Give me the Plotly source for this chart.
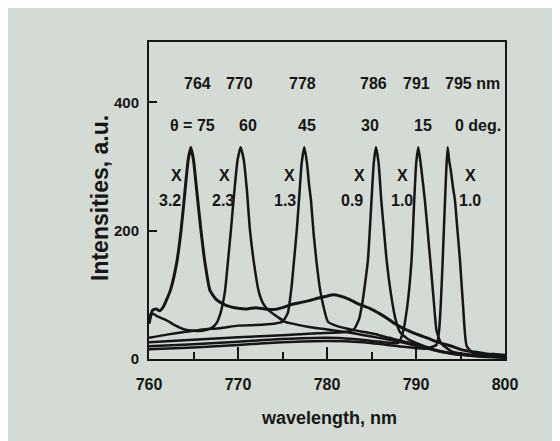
import plotly.graph_objects as go

# ---------------- data ----------------
# theta = 75 deg, peak 764 nm, scaled x3.2
wl_75 = [760.0, 760.4, 760.8, 761.2, 761.6, 762.4, 763.1, 763.6, 764.05, 764.4, 764.7,
         765.0, 765.36, 765.84, 766.3, 766.85, 767.6, 768.3, 769.0, 770.0, 771.0, 772.0,
         773.0, 774.0, 775.0, 776.0, 777.0, 778.0, 779.0, 780.0, 780.7, 781.5, 782.5, 783.5, 784.8,
         786.0, 786.7, 787.5, 788.5, 789.5, 790.4, 791.4, 792.3, 793.2, 794.2, 795.0, 796.0, 797.0,
         798.0, 799.0, 800.0]
int_75 = [55, 76, 78, 75, 81, 107, 149, 200, 263, 310, 330,
          310, 263, 200, 149, 107, 92, 86, 82, 79, 78, 80,
          78, 77, 80, 85, 88, 91, 95, 98, 100, 98, 93, 86, 79,
          70, 64, 56, 48, 42, 37, 32, 27, 23, 19, 15, 12, 10,
          8, 7, 6]

# theta = 60 deg, peak 770 nm, scaled x2.3
wl_60 = [760.0, 760.5, 761.0, 762.0, 763.0, 764.0, 765.0, 766.0, 767.0, 767.6, 768.0, 768.3,
         768.55, 768.85, 769.2, 769.6, 769.95, 770.3, 770.65, 771.0, 771.35, 771.8, 772.3, 772.8,
         773.4, 774.5, 775.3, 776.5, 778.0, 779.5, 781.0, 783.0, 785.0, 787.0, 789.0, 791.0,
         793.0, 795.0, 797.0, 800.0]
int_60 = [68, 70, 66, 60, 52, 46, 44, 44, 48, 56, 70, 87,
          107, 149, 200, 263, 310, 330, 310, 263, 200, 149, 107, 87,
          76, 65, 58, 54, 50, 47, 44, 40, 35, 30, 24, 17,
          11, 7, 5, 3]

# theta = 45 deg, peak 778 nm, scaled x1.3
wl_45 = [760.0, 762.0, 764.0, 766.0, 768.0, 770.0, 772.0, 774.0, 775.0, 775.6, 776.0, 776.3, 776.6,
         776.85, 777.15, 777.45, 777.75, 778.0, 778.2, 778.5, 778.8, 779.2, 779.6, 780.1, 781.0, 783.0,
         785.0, 787.0, 789.0, 790.4, 792.0, 794.0, 796.0, 798.0, 800.0]
int_45 = [33, 38, 42, 46, 48, 52, 53, 55, 58, 72, 110, 154, 200,
          247, 305, 330, 305, 270, 247, 195, 154, 110, 82, 58, 52, 45,
          40, 33, 26, 22, 14, 8, 5, 3, 2]

# theta = 30 deg, peak 786 nm, scaled x0.9
wl_30 = [760.0, 765.0, 770.0, 775.0, 779.0, 782.0, 783.0, 783.6, 784.0, 784.3, 784.6, 785.0, 785.25,
         785.5, 785.8, 786.1, 786.4, 786.7, 787.2, 787.7, 788.2, 789.0, 790.0, 792.0, 794.0, 796.0,
         800.0]
int_30 = [26, 30, 34, 37, 40, 42, 46, 62, 90, 120, 154, 247, 305,
          330, 305, 247, 200, 154, 100, 62, 42, 32, 25, 15, 9, 6,
          3]

# theta = 15 deg, peak 791 nm, scaled x1.0
wl_15 = [760.0, 765.0, 770.0, 775.0, 780.0, 783.0, 786.0, 788.0, 788.5, 789.0, 789.5, 789.8, 790.02,
         790.26, 790.52, 791.0, 791.6, 792.0, 792.3, 792.8, 794.0, 796.0, 800.0]
int_15 = [20, 23, 27, 31, 33, 31, 27, 25, 40, 80, 154, 247, 305,
          330, 305, 247, 154, 90, 45, 25, 12, 7, 4]

# theta = 0 deg, peak 795 nm, scaled x1.0
wl_0 = [760.0, 765.0, 770.0, 775.0, 780.0, 784.0, 788.0, 791.0, 792.3, 792.6, 792.8, 793.0, 793.26,
        793.42, 793.56, 793.72, 793.9, 794.15, 794.38, 794.6, 794.94, 795.3, 795.7, 796.5, 798.0,
        800.0]
int_0 = [15, 18, 22, 26, 28, 26, 20, 16, 22, 45, 90, 154, 247,
         300, 330, 310, 295, 268, 247, 210, 154, 80, 20, 8, 5,
         3]

curves = [(wl_75, int_75, 3.0), (wl_60, int_60, 2.5), (wl_45, int_45, 2.5),
          (wl_30, int_30, 2.5), (wl_15, int_15, 2.5), (wl_0, int_0, 2.5)]

# labels
peak_labels = ["764", "770", "778", "786", "791", "795 nm"]
peak_label_x = [765.4, 770.2, 777.3, 785.2, 790.1, 796.4]
angle_labels = ["θ = 75", "60", "45", "30", "15", "0 deg."]
angle_label_x = [764.9, 771.1, 777.75, 784.8, 790.8, 797.0]
x_mark_x = [763.1, 768.5, 775.8, 783.7, 788.5, 796.1]
scale_labels = ["3.2", "2.3", "1.3", "0.9", "1.0", "1.0"]
scale_label_x = [762.4, 768.3, 775.3, 782.8, 788.4, 796.1]
row_y = {"peak": 430, "angle": 364, "x": 286, "scale": 247}

x_ticks = [760, 770, 780, 790, 800]
y_ticks = [0, 200, 400]

# ---------------- figure ----------------
ink = "#161616"
paper = "#d3dbd4"
font_main = "Liberation Sans, Arial, sans-serif"

fig = go.Figure()
for wl, inten, w in curves:
    fig.add_trace(go.Scatter(x=wl, y=inten, mode="lines",
                             line=dict(color=ink, width=w, shape="spline", smoothing=0.5),
                             hoverinfo="skip", showlegend=False))

ann = []
def add_row(texts, xs, y, size=16):
    for t, x in zip(texts, xs):
        ann.append(dict(x=x, y=y, xref="x", yref="y", text="<b>%s</b>" % t, showarrow=False,
                        font=dict(size=size, color=ink, family=font_main),
                        xanchor="center", yanchor="middle"))

add_row(peak_labels, peak_label_x, row_y["peak"])
add_row(angle_labels, angle_label_x, row_y["angle"])
add_row(["X"] * 6, x_mark_x, row_y["x"])
add_row(scale_labels, scale_label_x, row_y["scale"])

# plot area spans page px 149..505 (x) and 42..359 (y); page has an 8 px body margin
ann.append(dict(x=-0.1376, y=0.508, xref="paper", yref="paper", text="<b>Intensities, a.u.</b>",
                textangle=-90, showarrow=False, xanchor="center", yanchor="middle",
                font=dict(size=23, color=ink, family=font_main)))
ann.append(dict(x=0.5056, y=-0.186, xref="paper", yref="paper", text="<b>wavelength, nm</b>",
                showarrow=False, xanchor="center", yanchor="middle",
                font=dict(size=18, color=ink, family=font_main)))

fig.update_layout(
    width=552, height=433,
    margin=dict(l=141, r=55, t=34, b=82),
    paper_bgcolor=paper, plot_bgcolor=paper,
    annotations=ann,
)
fig.update_xaxes(range=[760, 800], tickvals=x_ticks, ticktext=["<b>%d</b>" % v for v in x_ticks],
                 showgrid=False, zeroline=False, showline=True, linecolor=ink, linewidth=2,
                 mirror=True, ticks="inside", ticklen=12, tickwidth=2, tickcolor=ink,
                 minor=dict(tickvals=[765, 775, 785, 795], ticks="inside", ticklen=7,
                            tickwidth=2, tickcolor=ink, showgrid=False),
                 tickfont=dict(size=16, color=ink, family=font_main), ticklabelstandoff=10)
fig.update_yaxes(range=[0, 494], tickvals=y_ticks, ticktext=["<b>%d</b>" % v for v in y_ticks],
                 showgrid=False, zeroline=False, showline=True, linecolor=ink, linewidth=2,
                 mirror=True, ticks="inside", ticklen=8, tickwidth=2, tickcolor=ink,
                 tickfont=dict(size=15, color=ink, family=font_main), ticklabelstandoff=5)

fig.write_html("out.html")
